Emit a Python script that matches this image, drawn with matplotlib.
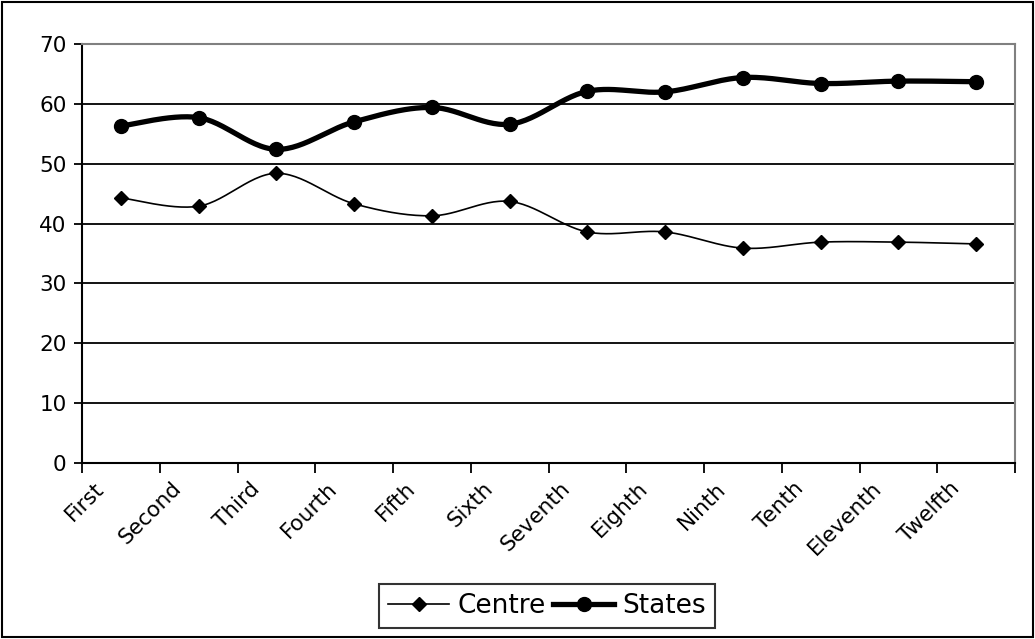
import numpy as np
import matplotlib
matplotlib.use("Agg")
import matplotlib.pyplot as plt
from matplotlib.transforms import ScaledTranslation
from matplotlib.lines import Line2D
from matplotlib.patches import Rectangle

plt.rcParams['font.family'] = ['DejaVu Sans']

categories = ["First", "Second", "Third", "Fourth", "Fifth", "Sixth", "Seventh",
              "Eighth", "Ninth", "Tenth", "Eleventh", "Twelfth"]
centre = [44.3, 42.9, 48.4, 43.3, 41.3, 43.7, 38.6, 38.6, 35.9, 36.9, 36.9, 36.6]
states = [56.3, 57.7, 52.4, 57.0, 59.4, 56.6, 62.1, 62.0, 64.4, 63.4, 63.8, 63.7]
yticks = [0, 10, 20, 30, 40, 50, 60, 70]


def smooth(x, y, n=30):
    """Catmull-Rom style curve through the points (Excel 'smoothed line')."""
    x = np.asarray(x, float)
    y = np.asarray(y, float)
    px = np.concatenate([[x[0]], x, [x[-1]]])
    py = np.concatenate([[y[0]], y, [y[-1]]])
    xs, ys = [], []
    t = np.linspace(0, 1, n)
    for i in range(1, len(px) - 2):
        p0x, p1x, p2x, p3x = px[i - 1], px[i], px[i + 1], px[i + 2]
        p0y, p1y, p2y, p3y = py[i - 1], py[i], py[i + 1], py[i + 2]
        c1x = p1x + (p2x - p0x) / 6
        c1y = p1y + (p2y - p0y) / 6
        c2x = p2x - (p3x - p1x) / 6
        c2y = p2y - (p3y - p1y) / 6
        bx = (1 - t) ** 3 * p1x + 3 * (1 - t) ** 2 * t * c1x + 3 * (1 - t) * t ** 2 * c2x + t ** 3 * p2x
        by = (1 - t) ** 3 * p1y + 3 * (1 - t) ** 2 * t * c1y + 3 * (1 - t) * t ** 2 * c2y + t ** 3 * p2y
        xs.extend(bx)
        ys.extend(by)
    return np.array(xs), np.array(ys)


fig = plt.figure(figsize=(10.35, 6.39), dpi=100)
ax = fig.add_axes([82 / 1035, 1 - 463 / 639, (1015 - 82) / 1035, (463 - 44) / 639])

x = np.arange(1, len(categories) + 1)

cx, cy = smooth(x, centre)
sx, sy = smooth(x, states)
ax.plot(cx, cy, color='black', lw=1.2, zorder=3)
ax.plot(x, centre, linestyle='none', marker='D', ms=7, color='black', zorder=4)
ax.plot(sx, sy, color='black', lw=3.8, zorder=3, solid_capstyle='round')
ax.plot(x, states, linestyle='none', marker='o', ms=10, color='black', zorder=4)

ax.set_xlim(0.5, len(categories) + 0.5)
ax.set_ylim(0, 70)
ax.set_yticks(yticks)
ax.set_yticklabels([str(v) for v in yticks], fontsize=15.5)

ax.set_xticks(np.arange(0.5, len(categories) + 1, 1.0))
ax.set_xticklabels([])
ax.set_xticks(x, minor=True)
ax.set_xticklabels(categories, minor=True, rotation=45, ha='right', va='top', fontsize=15.5)
ax.tick_params(axis='x', which='minor', length=0, pad=11)
ax.tick_params(axis='x', which='major', length=7, width=1.3, direction='out', color='black')
ax.tick_params(axis='y', length=6, width=1.3, direction='out', pad=5)
offset = ScaledTranslation(-13 / 100, 0, fig.dpi_scale_trans)
for lab in ax.get_xticklabels(minor=True):
    lab.set_transform(lab.get_transform() + offset)

ax.yaxis.grid(True, color='black', lw=1.3)
ax.set_axisbelow(True)
gl = ax.get_ygridlines()
gl[-1].set_visible(False)
gl[0].set_visible(False)

for s in ['left', 'bottom']:
    ax.spines[s].set_color('black')
    ax.spines[s].set_linewidth(1.5)
for s in ['top', 'right']:
    ax.spines[s].set_color('#808080')
    ax.spines[s].set_linewidth(1.5)

handles = [Line2D([], [], color='black', lw=1.2, marker='D', ms=7),
           Line2D([], [], color='black', lw=3.8, marker='o', ms=10)]
leg = fig.legend(handles, ['Centre', 'States'], loc='center',
                 bbox_to_anchor=(547 / 1035, 1 - 606 / 639), ncol=2, fontsize=19,
                 frameon=True, fancybox=False, edgecolor='black', handlelength=2.3,
                 handletextpad=0.3, columnspacing=0.3, borderpad=0.35,
                 borderaxespad=0)
leg.get_frame().set_linewidth(1.5)

fig.patches.append(Rectangle((0.0015, 0.0025), 0.997, 0.995, transform=fig.transFigure,
                             fill=False, edgecolor='black', lw=1.5))

fig.savefig('out.png', dpi=100)
